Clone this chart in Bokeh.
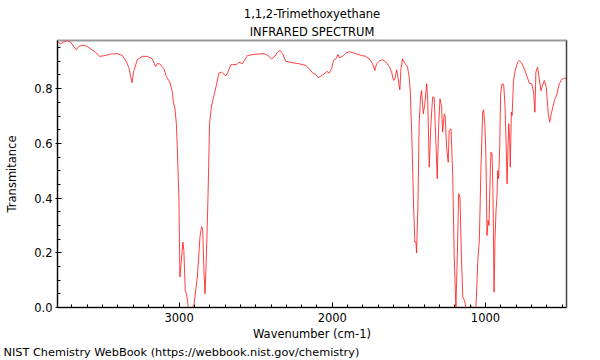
from bokeh.plotting import figure
from bokeh.models import (Range1d, LinearAxis, SingleIntervalTicker, FixedTicker,
                          Title, PrintfTickFormatter)
from bokeh.embed import file_html
from bokeh.resources import INLINE

title_main = "1,1,2-Trimethoxyethane"
title_sub = "INFRARED SPECTRUM"
x_label = "Wavenumber (cm-1)"
y_label = "Transmitance"
footer = "NIST Chemistry WebBook (https://webbook.nist.gov/chemistry)"

wavenumber = [
    3792, 3774, 3757, 3731, 3709, 3688, 3672, 3655, 3633, 3611, 3578, 3546, 3518, 3492,
    3448, 3404, 3371, 3343, 3328, 3308, 3295, 3273, 3241, 3208, 3175, 3154, 3143, 3127,
    3099, 3082, 3060, 3044, 3038, 3027, 3018, 3012, 3005, 3001, 2995, 2975, 2969, 2960,
    2951, 2940, 2914, 2903, 2881, 2864, 2853, 2846, 2838, 2831, 2822, 2812, 2807, 2801,
    2790, 2773, 2757, 2740, 2724, 2711, 2694, 2681, 2663, 2652, 2624, 2609, 2587, 2554,
    2511, 2446, 2420, 2397, 2380, 2358, 2341, 2325, 2304, 2271, 2217, 2173, 2152, 2129,
    2108, 2093, 2075, 2054, 2036, 2021, 2005, 1992, 1977, 1962, 1955, 1933, 1912, 1890,
    1857, 1814, 1781, 1753, 1737, 1722, 1711, 1694, 1672, 1650, 1628, 1613, 1600, 1591,
    1580, 1574, 1559, 1552, 1541, 1531, 1520, 1509, 1498, 1491, 1480, 1469, 1461, 1454,
    1450, 1441, 1433, 1424, 1417, 1406, 1397, 1384, 1377, 1367, 1356, 1345, 1335, 1324,
    1315, 1306, 1297, 1286, 1280, 1269, 1263, 1254, 1243, 1237, 1225, 1214, 1204, 1193,
    1184, 1175, 1166, 1157, 1148, 1137, 1127, 1105, 1094, 1083, 1062, 1050, 1040, 1029,
    1018, 1012, 1003, 997, 990, 983, 977, 968, 964, 957, 951, 944, 938, 931,
    925, 920, 914, 907, 901, 892, 881, 872, 864, 859, 853, 848, 842, 838,
    831, 826, 817, 806, 790, 779, 764, 747, 729, 714, 698, 686, 677, 671,
    660, 649, 638, 627, 616, 603, 590, 581, 568, 550, 533, 518, 502, 485, 471,
]

transmittance = [
    0.970, 0.964, 0.970, 0.976, 0.970, 0.954, 0.942, 0.954, 0.959, 0.957, 0.946, 0.933, 0.918, 0.920,
    0.926, 0.928, 0.921, 0.897, 0.876, 0.822, 0.866, 0.906, 0.918, 0.918, 0.909, 0.881, 0.891, 0.891,
    0.873, 0.842, 0.824, 0.787, 0.751, 0.726, 0.672, 0.586, 0.464, 0.391, 0.111, 0.239, 0.208, 0.062,
    0.048, 0.000, 0.000, 0.011, 0.111, 0.257, 0.296, 0.282, 0.135, 0.050, 0.184, 0.391, 0.520, 0.672,
    0.732, 0.775, 0.812, 0.857, 0.860, 0.854, 0.847, 0.860, 0.887, 0.888, 0.888, 0.897, 0.891, 0.921,
    0.925, 0.928, 0.921, 0.909, 0.915, 0.933, 0.940, 0.928, 0.900, 0.896, 0.891, 0.885, 0.873, 0.858,
    0.852, 0.840, 0.845, 0.854, 0.863, 0.857, 0.873, 0.903, 0.909, 0.925, 0.913, 0.918, 0.930, 0.935,
    0.930, 0.922, 0.918, 0.906, 0.891, 0.866, 0.891, 0.900, 0.906, 0.897, 0.881, 0.860, 0.830, 0.836,
    0.869, 0.848, 0.796, 0.873, 0.909, 0.897, 0.888, 0.879, 0.842, 0.793, 0.611, 0.367, 0.239, 0.239,
    0.199, 0.367, 0.672, 0.769, 0.793, 0.708, 0.739, 0.818, 0.757, 0.513, 0.672, 0.769, 0.769, 0.611,
    0.471, 0.659, 0.763, 0.732, 0.641, 0.708, 0.702, 0.586, 0.531, 0.647, 0.653, 0.489, 0.184, 0.000,
    0.184, 0.416, 0.403, 0.184, 0.038, 0.026, 0.000, 0.000, 0.007, 0.000, 0.000, 0.172, 0.245, 0.520,
    0.715, 0.723, 0.659, 0.549, 0.263, 0.318, 0.300, 0.513, 0.568, 0.562, 0.428, 0.056, 0.245, 0.355,
    0.403, 0.501, 0.471, 0.586, 0.781, 0.818, 0.815, 0.732, 0.574, 0.452, 0.586, 0.672, 0.611, 0.513,
    0.714, 0.702, 0.830, 0.866, 0.897, 0.903, 0.893, 0.873, 0.845, 0.820, 0.818, 0.787, 0.714, 0.860,
    0.879, 0.836, 0.793, 0.812, 0.830, 0.805, 0.708, 0.677, 0.714, 0.757, 0.781, 0.818, 0.834, 0.838, 0.837,
]

FONT = "DejaVu Sans"
FS = "11.5px"

p = figure(width=600, height=360, output_backend="svg", toolbar_location=None,
           x_range=Range1d(3794, 471), y_range=Range1d(0, 0.976),
           min_border_left=57, min_border_right=34, min_border_top=40, min_border_bottom=53)
p.xgrid.visible = False
p.ygrid.visible = False
p.background_fill_color = "white"
p.border_fill_color = "white"
p.outline_line_color = "#999999"
p.outline_line_width = 2

p.line(wavenumber, transmittance, line_color="#ff2020", line_width=1, line_alpha=0.85)

p.xaxis.ticker = SingleIntervalTicker(interval=1000, num_minor_ticks=10)
p.yaxis.ticker = SingleIntervalTicker(interval=0.2, num_minor_ticks=4)
p.yaxis.formatter = PrintfTickFormatter(format="%.1f")
for ax in (p.xaxis[0], p.yaxis[0]):
    ax.axis_line_color = "black"
    ax.major_tick_line_color = "black"
    ax.minor_tick_line_color = "black"
    ax.major_label_text_font = FONT
    ax.major_label_text_font_size = FS
    ax.major_label_text_color = "black"
    ax.axis_label_text_font = FONT
    ax.axis_label_text_font_size = FS
    ax.axis_label_text_font_style = "normal"
    ax.axis_label_text_color = "black"
p.xaxis.axis_label = x_label
p.yaxis.axis_label = y_label
p.xaxis.major_tick_in = 5
p.xaxis.major_tick_out = 0
p.xaxis.minor_tick_in = 3
p.xaxis.minor_tick_out = 0
p.xaxis.major_label_standoff = 5
p.xaxis.axis_label_standoff = 2
p.yaxis.major_tick_in = 4
p.yaxis.major_tick_out = 2
p.yaxis.minor_tick_in = 3
p.yaxis.minor_tick_out = 0
p.yaxis.major_label_standoff = 3
p.yaxis.axis_label_standoff = 12

right = LinearAxis(ticker=FixedTicker(ticks=[]), axis_line_color="#444444",
                   major_tick_line_color=None, minor_tick_line_color=None,
                   major_label_text_alpha=0)
p.add_layout(right, "right")

p.title.text = title_main
p.title.align = "center"
p.title.text_font = FONT
p.title.text_font_size = FS
p.title.text_font_style = "normal"
p.title.text_color = "black"
p.title.standoff = 2
p.add_layout(Title(text=title_sub, align="center", text_font=FONT, text_font_size=FS,
                   text_font_style="normal", text_color="black", standoff=3), "above")
p.add_layout(Title(text=footer, align="left", offset=-54, text_font=FONT, text_font_size="11.3px",
                   text_font_style="normal", text_color="black", standoff=0), "below")

open("out.html", "w").write(file_html(p, INLINE))
